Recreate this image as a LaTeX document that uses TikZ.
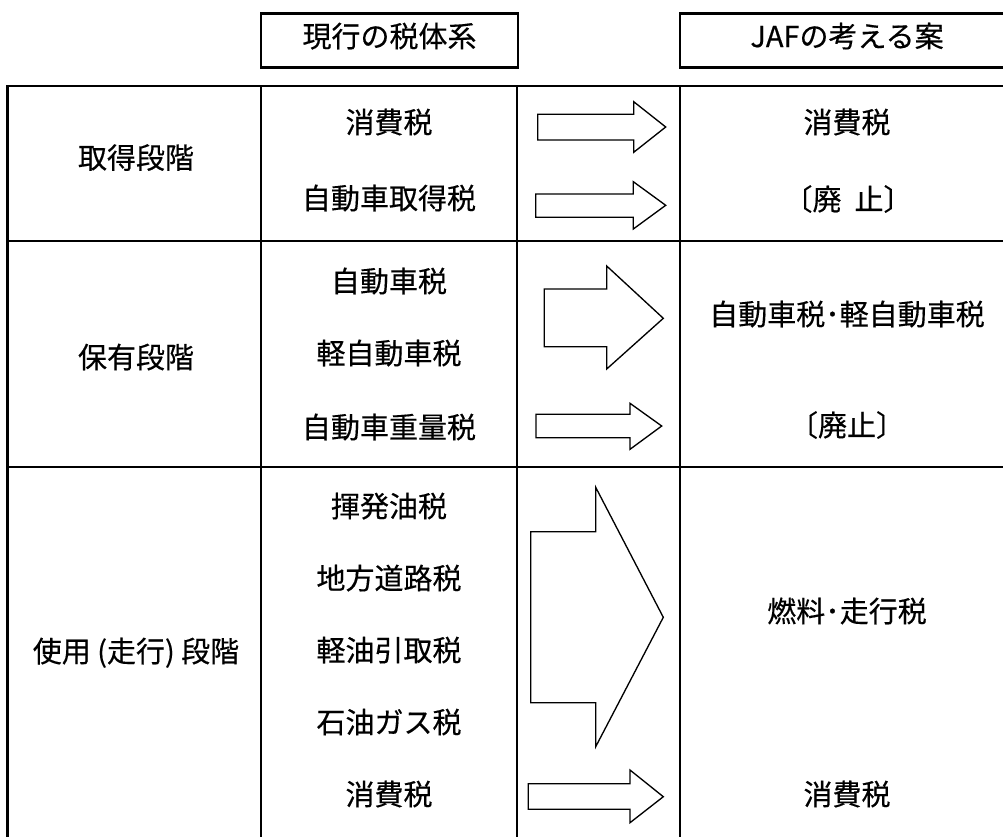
\documentclass[tikz,border=0pt]{standalone}
\usepackage{fontspec}
\setmainfont{Noto Sans CJK JP}[FakeBold=0.4]
\begin{document}
\begin{tikzpicture}[x=0.75pt,y=-0.75pt,
  gridline/.style={line width=2.1pt,line cap=rect},
  blockarrow/.style={line width=1pt,fill=white,line join=miter},
  lbl/.style={font=\fontsize{21.75pt}{26pt}\selectfont,inner sep=0pt,anchor=center,
    text height=0.83em,text depth=0.07em}]
\useasboundingbox (0,0) rectangle (1003,836);
\clip (0,0) rectangle (1003,836);
% header boxes
\draw[gridline] (261,13.3) rectangle (518,67.7);
\draw[gridline] (680,13.3) rectangle (1014,67.7);
\node[lbl] (h1) at (389.5,42) {現行の税体系};
\node[lbl] (h2) at (847,42) {JAFの考える案};
% table grid
\draw[gridline] (7.7,850) -- (7.7,86) -- (1014,86);
\draw[gridline] (7.7,241) -- (1014,241);
\draw[gridline] (7.7,467) -- (1014,467);
\draw[gridline] (261,86) -- (261,850);
\draw[gridline] (517,86) -- (517,850);
\draw[gridline] (680,86) -- (680,850);
% left column
\node[lbl] (s1) at (136,163.5) {取得段階};
\node[lbl] (s2) at (136,363) {保有段階};
\node[lbl] (s3) at (136,657) {使用\hspace{0.22em}(走行)\hspace{0.22em}段階};
% middle column
\node[lbl] (m1) at (389,128) {消費税};
\node[lbl] (m2) at (389,204) {自動車取得税};
\node[lbl] (m3) at (389,287) {自動車税};
\node[lbl] (m4) at (389,359) {軽自動車税};
\node[lbl] (m5) at (389,433) {自動車重量税};
\node[lbl] (m6) at (389,512) {揮発油税};
\node[lbl] (m7) at (389,584) {地方道路税};
\node[lbl] (m8) at (389,656) {軽油引取税};
\node[lbl] (m9) at (389,728) {石油ガス税};
\node[lbl] (m10) at (389,800) {消費税};
% right column
\node[lbl] (r1) at (847,128) {消費税};
\node[lbl] (r2) at (848,205) {〔廃\hspace{0.45em}止〕};
\node[lbl] (r3) at (847,320) {自動車税･軽自動車税};
\node[lbl] (r4) at (847,431) {〔廃止〕};
\node[lbl] (r5) at (847,617) {燃料･走行税};
\node[lbl] (r6) at (847,800) {消費税};
% block arrows
\draw[blockarrow] (537.7,114.3) -- (633.7,114.3) -- (633.7,101.7) -- (665.7,127)
  -- (633.7,152.3) -- (633.7,140) -- (537.7,140) -- cycle;
\draw[blockarrow] (535.7,194) -- (633.3,194) -- (633.3,181.7) -- (665.7,205.3)
  -- (633.3,229) -- (633.3,217.3) -- (535.7,217.3) -- cycle;
\draw[blockarrow] (544.3,289) -- (606.7,289) -- (606.7,266) -- (663.3,318.3)
  -- (606.7,369) -- (606.7,346.7) -- (544.3,346.7) -- cycle;
\draw[blockarrow] (536,414.3) -- (630,414.3) -- (630,403.3) -- (661.7,426)
  -- (630,449.3) -- (630,437.7) -- (536,437.7) -- cycle;
\draw[blockarrow] (530.7,531.7) -- (595.7,531.7) -- (595.7,487.3) -- (663.3,617.3)
  -- (595.7,746.7) -- (595.7,702.7) -- (530.7,702.7) -- cycle;
\draw[blockarrow] (528.3,783.7) -- (630,783.7) -- (630,770) -- (663.3,796.7)
  -- (630,822.7) -- (630,809.3) -- (528.3,809.3) -- cycle;
\end{tikzpicture}
\end{document}
